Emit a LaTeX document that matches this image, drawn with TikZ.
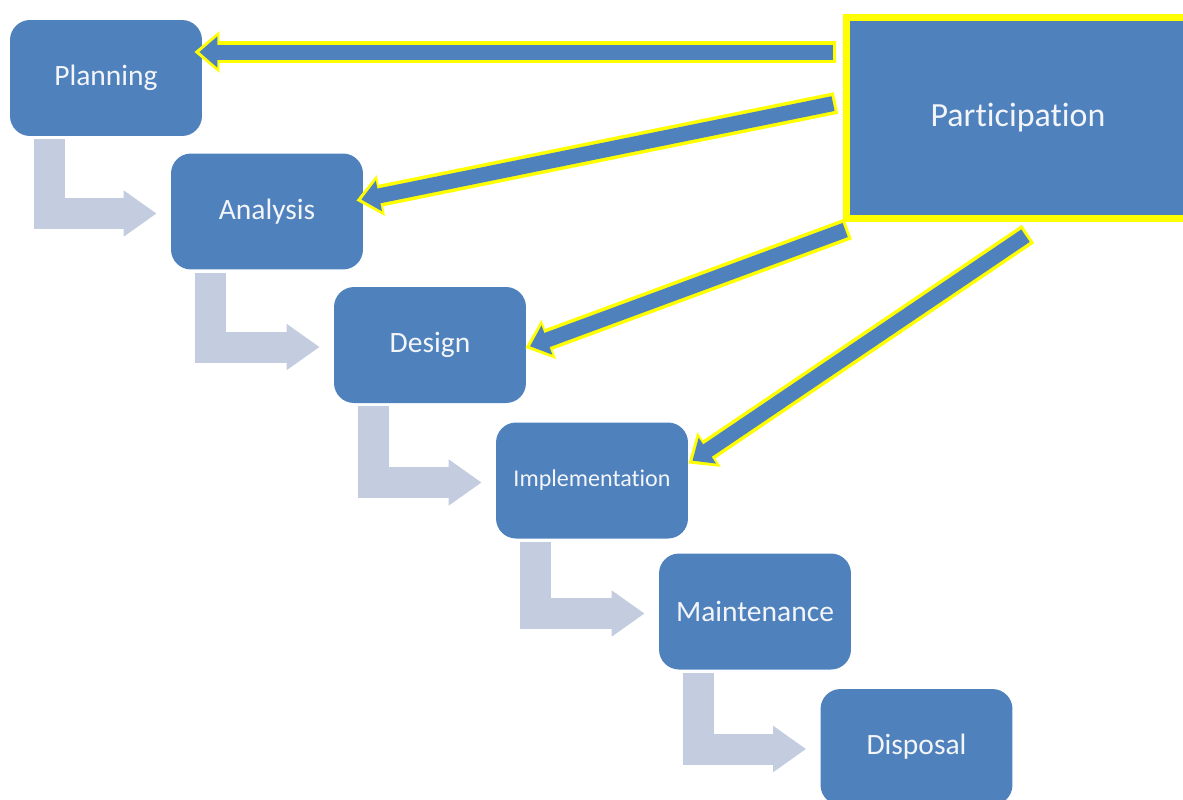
\documentclass[tikz,border=0pt]{standalone}
\usepackage{fontspec}
\setmainfont{Carlito}[Ligatures=NoCommon]
\usepackage{xcolor}
\definecolor{boxblue}{HTML}{4F81BD}
\definecolor{flowgrey}{HTML}{C4CDE0}
\definecolor{glow}{HTML}{FFFF00}
\definecolor{paper}{HTML}{F3F5F9}
\usetikzlibrary{calc,arrows.meta,positioning}

\tikzset{
	phase/.style={fill=boxblue, rounded corners=0.4cm, minimum width=3.84cm,
		minimum height=2.32cm, inner sep=0pt, text=paper,
		font=\fontsize{16.8pt}{20pt}\selectfont},
	stepflow/.style={draw=flowgrey, line width=0.62cm, line cap=butt, line join=miter,
		-{Triangle[length=0.66cm, width=0.88cm]}},
	partglow/.style={draw=glow, line width=0.44cm, line cap=butt,
		-{Triangle[length=0.5cm, width=0.8cm]}},
	partshaft/.style={draw=boxblue, line width=0.3cm, line cap=butt,
		shorten >=0.1cm, shorten <=0.06cm,
		-{Triangle[length=0.36cm, width=0.6cm]}}
}

\begin{document}
\begin{tikzpicture}[x=0.02cm, y=-0.02cm]

		\useasboundingbox (0,0) rectangle (1183,799);

		% ================= life-cycle phases =================
		\node[phase] (plan) at (106,78)    {Planning};
		\node[phase] (ana)  at (267,211.5) {Analysis};
		\node[phase] (des)  at (430,345)   {Design};
		\node[phase, font=\fontsize{13.7pt}{16pt}\selectfont] (imp) at (592,480.5) {Implementation};
		\node[phase] (mnt)  at (755,611.5) {Maintenance};
		\node[phase] (dsp)  at (916.5,747) {Disposal};

		% bent arrows between consecutive phases
		\foreach \a/\b in {plan/ana, ana/des, des/imp, imp/mnt, mnt/dsp}{
			\draw[stepflow] ($(\a.south west)+(39.5,3)$) |- ($(\b.west)+(-14,2)$);
		}

		% ================= participation =================
		\node[fill=boxblue, draw=glow, line width=0.14cm, minimum width=6.86cm,
			minimum height=4.02cm, inner sep=0pt, text=paper,
			font=\fontsize{19.3pt}{22pt}\selectfont] (part) at (1018,118) {Participation};

		% tails of the participation arrows
		\coordinate (s1) at (836,52);
		\coordinate (s2) at (836,103);
		\coordinate (s3) at (848,229);
		\coordinate (s4) at (1028,234);

		% heads, on the phase boxes
		\coordinate (e1) at ($(plan.east |- s1)+(-8,0)$);
		\coordinate (e2) at ($(ana.east)+(-7,-11)$);
		\coordinate (e3) at ($(des.east)+(-1,3)$);
		\coordinate (e4) at ($(imp.east)+(0,-17)$);

		\foreach \s/\e in {s1/e1, s2/e2, s3/e3, s4/e4}{
			\draw[partglow] (\s) -- (\e);
			\draw[partshaft] (\s) -- (\e);
		}

	\end{tikzpicture}
\end{document}
